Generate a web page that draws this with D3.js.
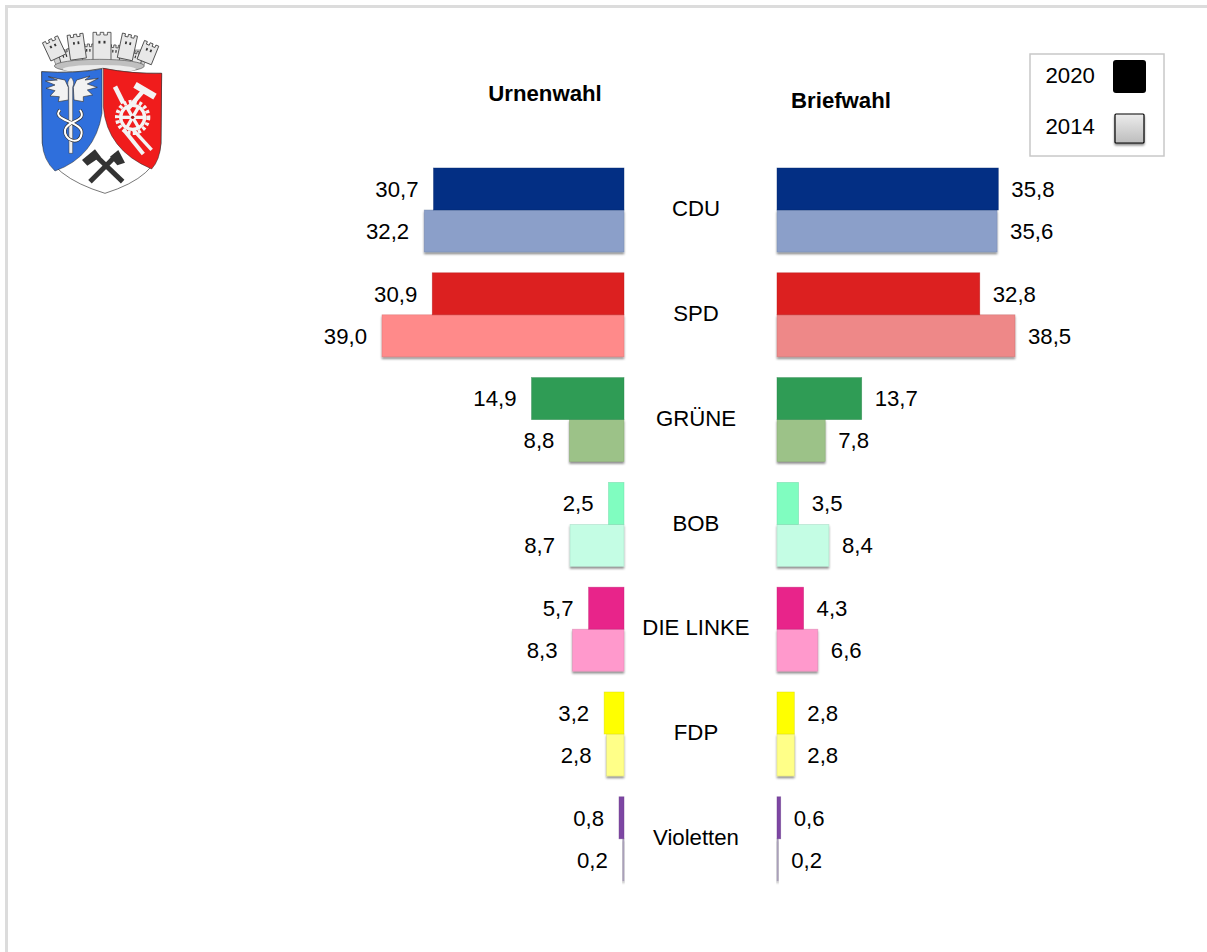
<!DOCTYPE html>
<html>
<head>
<meta charset="utf-8">
<script src="https://cdnjs.cloudflare.com/ajax/libs/d3/7.8.5/d3.min.js"></script>
<style>
  html, body { margin: 0; padding: 0; background: #fff; overflow: hidden; }
  text { font-family: "Liberation Sans", Arial, sans-serif; fill: #000; }
</style>
</head>
<body>
<div id="chart-area"></div>
<script>
var parties = ['CDU', 'SPD', 'GRÜNE', 'BOB', 'DIE LINKE', 'FDP', 'Violetten'];
var urne2020 = [30.7, 30.9, 14.9, 2.5, 5.7, 3.2, 0.8];
var urne2014 = [32.2, 39.0, 8.8, 8.7, 8.3, 2.8, 0.2];
var brief2020 = [35.8, 32.8, 13.7, 3.5, 4.3, 2.8, 0.6];
var brief2014 = [35.6, 38.5, 7.8, 8.4, 6.6, 2.8, 0.2];
var colors2020 = ['#032f84', '#dc2020', '#2f9c55', '#80fdc0', '#e8248a', '#ffff00', '#7d46a3'];
var colorsUrne2014 = ['#8b9fc9', '#ff8a8a', '#9cc288', '#c4fde4', '#ff99cc', '#ffff88', '#b3a8c4'];
var colorsBrief2014 = ['#8b9fc9', '#ee8888', '#9cc288', '#c4fde4', '#ff99cc', '#ffff88', '#b3a8c4'];
var legendYears = ['2020', '2014'];

var width = 1207, height = 952;
var fontSize = 22.2;
var barH = 42;
var step = 104.8;

var svg = d3.select('#chart-area').append('svg')
    .attr('width', width)
    .attr('height', height)
    .style('display', 'block');

var defs = svg.append('defs');

// soft shadow under the bars
var shadow = defs.append('filter').attr('id', 'shadow')
    .attr('x', '-20%').attr('y', '-20%').attr('width', '140%').attr('height', '150%');
shadow.append('feDropShadow')
    .attr('dx', 0).attr('dy', 2).attr('stdDeviation', 1.2)
    .attr('flood-color', '#000').attr('flood-opacity', 0.45);

var grad = defs.append('linearGradient').attr('id', 'swatch')
    .attr('x1', 0).attr('y1', 0).attr('x2', 0).attr('y2', 1);
grad.append('stop').attr('offset', '0%').attr('stop-color', '#ececec');
grad.append('stop').attr('offset', '100%').attr('stop-color', '#bdbdbd');

// page frame, top and left only
svg.append('rect').attr('x', 5).attr('y', 5).attr('width', width - 5).attr('height', 3).attr('fill', '#dcdcdc');
svg.append('rect').attr('x', 5).attr('y', 5).attr('width', 3).attr('height', height - 5).attr('fill', '#dcdcdc');

//scales
var y = d3.scaleBand()
    .domain(parties)
    .range([168, 168 + step * 6 + barH * 2])
    .paddingInner(1 - barH * 2 / step)
    .paddingOuter(0);

var xLeft = d3.scaleLinear().domain([0, 39]).range([624, 382]);
var xRight = d3.scaleLinear().domain([0, 38.5]).range([777, 1015]);

function fmt(v) { return v.toFixed(1).replace('.', ','); }

function drawSide(x, values2020, values2014, colors2014, side) {
  var g = svg.append('g').attr('class', 'side-' + side);

  function rows(values, colors, row) {
    return values.map(function(v, i) {
      return { party: parties[i], value: v, color: colors[i], row: row };
    });
  }
  var data = rows(values2014, colors2014, 1).concat(rows(values2020, colors2020, 0));

  g.selectAll('rect')
    .data(data)
    .enter().append('rect')
    .attr('x', function(d) { return Math.min(x(0), x(d.value)); })
    .attr('width', function(d) { return Math.abs(x(d.value) - x(0)); })
    .attr('y', function(d) { return y(d.party) + d.row * barH; })
    .attr('height', barH)
    .attr('fill', function(d) { return d.color; })
    .attr('stroke', function(d) { return d3.color(d.color).darker(0.5).copy({ opacity: 0.6 }); })
    .attr('stroke-width', 0.7)
    .attr('filter', function(d) { return d.row === 1 ? 'url(#shadow)' : null; });

  g.selectAll('text')
    .data(data)
    .enter().append('text')
    .attr('x', function(d) { return side === 'left' ? x(d.value) - 15 : x(d.value) + 13; })
    .attr('y', function(d) { return y(d.party) + d.row * barH + barH / 2; })
    .attr('dy', '0.35em')
    .attr('text-anchor', side === 'left' ? 'end' : 'start')
    .attr('font-size', fontSize)
    .text(function(d) { return fmt(d.value); });
}

drawSide(xLeft, urne2020, urne2014, colorsUrne2014, 'left');
drawSide(xRight, brief2020, brief2014, colorsBrief2014, 'right');

//party names
svg.selectAll('.party')
  .data(parties)
  .enter().append('text')
  .attr('class', 'party')
  .attr('x', 696)
  .attr('y', function(d) { return y(d) + barH - 1.5; })
  .attr('dy', '0.35em')
  .attr('text-anchor', 'middle')
  .attr('font-size', fontSize)
  .text(function(d) { return d; });

//column titles
svg.append('text').attr('x', 545).attr('y', 100.5).attr('text-anchor', 'middle')
  .attr('font-size', fontSize).attr('font-weight', 'bold').text('Urnenwahl');
svg.append('text').attr('x', 841).attr('y', 108).attr('text-anchor', 'middle')
  .attr('font-size', fontSize).attr('font-weight', 'bold').text('Briefwahl');

//legend
svg.append('rect').attr('x', 1030).attr('y', 54).attr('width', 134).attr('height', 102)
  .attr('fill', '#fff').attr('stroke', '#c8c8c8').attr('stroke-width', 1.5);
svg.selectAll('.legend-label')
  .data(legendYears)
  .enter().append('text')
  .attr('class', 'legend-label')
  .attr('x', 1045.5)
  .attr('y', function(d, i) { return 83 + i * 51; })
  .attr('font-size', fontSize)
  .text(function(d) { return d; });
svg.append('rect').attr('x', 1113).attr('y', 60).attr('width', 33).attr('height', 33).attr('rx', 3).attr('fill', '#000');
svg.append('rect').attr('x', 1115).attr('y', 114).attr('width', 29).attr('height', 29).attr('rx', 1)
  .attr('fill', 'url(#swatch)').attr('stroke', '#000').attr('stroke-width', 1.2).attr('filter', 'url(#shadow)');

//city crest, coordinates are in 3x px
var crest = svg.append('g').attr('class', 'crest').attr('transform', 'scale(0.3333)');

function tower(cx, cy, w, h, rot) {
  var t = crest.append('g').attr('transform', 'translate(' + cx + ',' + cy + ') rotate(' + rot + ')');
  var c = w / 5;
  t.append('path')
    .attr('d', 'M' + (-w / 2) + ',' + h + 'V0h' + c + 'v8h' + c + 'v-8h' + c + 'v8h' + c + 'v-8h' + c + 'V' + h + 'Z')
    .attr('fill', '#e8e8e8').attr('stroke', '#444').attr('stroke-width', 2.5);
  t.append('rect').attr('x', -w / 5).attr('y', h * 0.3).attr('width', w / 9).attr('height', 8).attr('fill', '#333');
  t.append('rect').attr('x', w / 12).attr('y', h * 0.3).attr('width', w / 9).attr('height', 8).attr('fill', '#333');
}
crest.append('path').attr('d', 'M150,150L450,150L430,200Q300,170 170,200Z')
  .attr('fill', '#cfcfcf').attr('stroke', '#666').attr('stroke-width', 2);
tower(190, 150, 34, 48, -15);
tower(265, 132, 34, 50, 0);
tower(345, 135, 34, 50, 5);
tower(415, 155, 32, 45, 15);
tower(150, 118, 50, 60, -25);
tower(225, 103, 48, 75, -8);
tower(306, 97, 54, 85, 0);
tower(390, 104, 46, 75, 12);
tower(455, 130, 46, 60, 22);
crest.append('ellipse').attr('cx', 298).attr('cy', 198).attr('rx', 135).attr('ry', 20)
  .attr('fill', '#c0c0c0').attr('stroke', '#555').attr('stroke-width', 2);
crest.append('ellipse').attr('cx', 298).attr('cy', 207).attr('rx', 110).attr('ry', 12).attr('fill', '#ececec');

crest.append('path')
  .attr('d', 'M125,215Q220,222 308,205Q395,222 485,220L483,430Q475,530 315,580Q150,530 127,430Z')
  .attr('fill', '#fff').attr('stroke', '#333').attr('stroke-width', 2);
crest.append('path')
  .attr('d', 'M125,215Q220,222 306,207L306,340Q285,470 165,513Q130,480 127,430Z')
  .attr('fill', '#2f6fdc').attr('stroke', '#222').attr('stroke-width', 1.5);
crest.append('path')
  .attr('d', 'M310,205Q395,222 485,220L483,430Q480,480 455,507Q320,450 310,320Z')
  .attr('fill', '#f01c1c').attr('stroke', '#222').attr('stroke-width', 1.5);

// wings and staff on blue
crest.append('path')
  .attr('d', 'M205,300L175,305L178,290L150,288L165,272L138,265L165,255L136,243L172,240L145,230L195,240L205,262Z')
  .attr('fill', '#f2f2f2').attr('stroke', '#333').attr('stroke-width', 2);
crest.append('path')
  .attr('d', 'M222,300L250,305L250,290L278,285L262,270L292,262L262,252L295,235L255,240L270,228L230,240L220,262Z')
  .attr('fill', '#f2f2f2').attr('stroke', '#333').attr('stroke-width', 2);
crest.append('path').attr('d', 'M206,262Q198,245 213,232Q226,245 218,262V460H207Z')
  .attr('fill', '#eee').attr('stroke', '#333').attr('stroke-width', 1.5);
crest.append('path')
  .attr('d', 'M180,330C150,360 250,365 245,400C240,440 190,420 195,390C200,360 265,365 240,330')
  .attr('fill', 'none').attr('stroke', '#333').attr('stroke-width', 10);
crest.append('path')
  .attr('d', 'M180,330C150,360 250,365 245,400C240,440 190,420 195,390C200,360 265,365 240,330')
  .attr('fill', 'none').attr('stroke', '#fff').attr('stroke-width', 6);

// tools and gear on red
crest.append('path').attr('d', 'M345,260L370,310').attr('stroke', '#f4f4f4').attr('stroke-width', 14);
crest.append('path').attr('d', 'M372,390L430,462').attr('stroke', '#f4f4f4').attr('stroke-width', 12);
crest.append('path').attr('d', 'M400,390L455,450').attr('stroke', '#f4f4f4').attr('stroke-width', 10);
crest.append('path').attr('d', 'M432,270L385,325').attr('stroke', '#f4f4f4').attr('stroke-width', 13);
crest.append('path').attr('d', 'M405,255L465,290').attr('stroke', '#f4f4f4').attr('stroke-width', 20);
var gear = crest.append('g').attr('transform', 'translate(398,352)');
gear.append('circle').attr('r', 47).attr('fill', 'none').attr('stroke', '#f4f4f4').attr('stroke-width', 12).attr('stroke-dasharray', '9 7');
gear.append('circle').attr('r', 36).attr('fill', 'none').attr('stroke', '#f4f4f4').attr('stroke-width', 10);
[0, 60, 120].forEach(function(a) {
  gear.append('rect').attr('x', -36).attr('y', -5).attr('width', 72).attr('height', 10)
    .attr('fill', '#f4f4f4').attr('transform', 'rotate(' + a + ')');
});
gear.append('circle').attr('r', 5).attr('fill', '#b01010');

// hammers on white
crest.append('path').attr('d', 'M270,545L350,465').attr('stroke', '#333').attr('stroke-width', 15);
crest.append('path').attr('d', 'M368,545L285,465').attr('stroke', '#333').attr('stroke-width', 15);
crest.append('path').attr('d', 'M246,480L285,448L302,470L262,497Z').attr('fill', '#333');
crest.append('path').attr('d', 'M330,470L355,450L375,488L352,496Z').attr('fill', '#333');
</script>
</body>
</html>
